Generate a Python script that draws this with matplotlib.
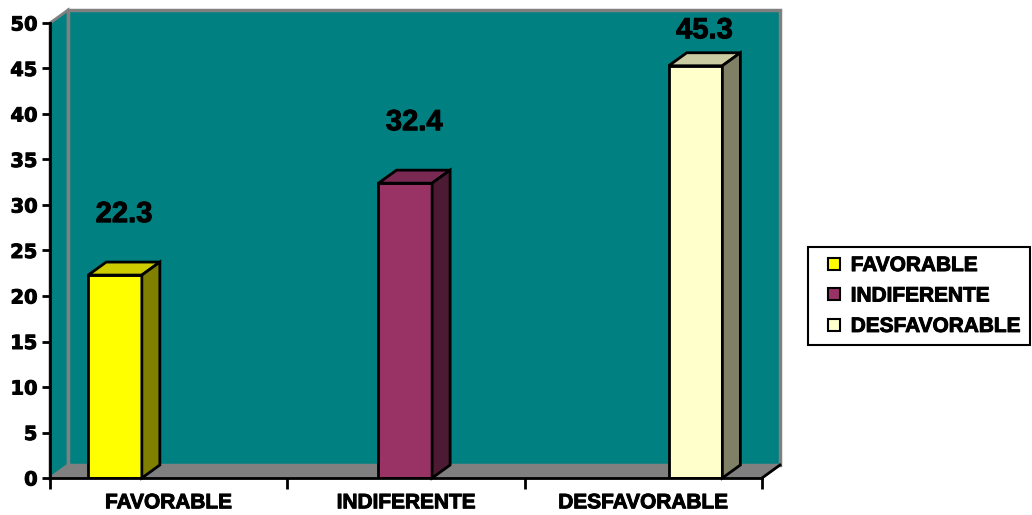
import numpy as np
import matplotlib.pyplot as plt
import matplotlib.patheffects as pe
from matplotlib.patches import Polygon
from matplotlib.lines import Line2D

plt.rcParams['font.family'] = ['Liberation Sans', 'DejaVu Sans']
plt.rcParams['font.weight'] = 'bold'

# chart data
categories = ['FAVORABLE', 'INDIFERENTE', 'DESFAVORABLE']
values = [22.3, 32.4, 45.3]
y_ticks = [0, 5, 10, 15, 20, 25, 30, 35, 40, 45, 50]

# colours: front, top and side faces of each bar
front_colors = ['#FFFF00', '#993366', '#FFFFCC']
top_colors = ['#CCCC00', '#7A2952', '#CCCCA3']
side_colors = ['#808000', '#4D1A33', '#808066']
wall = '#008080'
floor = '#808080'
heavy = [pe.withStroke(linewidth=0.7, foreground='black')]

W, H = 1032, 515
fig = plt.figure(figsize=(W / 100, H / 100), dpi=100)
ax = fig.add_axes([50 / W, 1 - 478 / H, 712 / W, 455 / H])
ax.set_xlim(0, 3)
ax.set_ylim(0, 50)

# depth offset of the fake 3D box (in data units)
dx = 18 / 237.3
dy = 13 / 9.1
top = y_ticks[-1]
ncat = len(categories)

# back wall, left wall, floor
ax.add_patch(Polygon([(dx, dy), (ncat + dx, dy), (ncat + dx, top + dy), (dx, top + dy)],
                     closed=True, fc=wall, ec=floor, lw=2.5, clip_on=False, zorder=0))
ax.add_patch(Polygon([(0, 0), (dx, dy), (dx, top + dy), (0, top)],
                     closed=True, fc=wall, ec=floor, lw=2, clip_on=False, zorder=0.5))
ax.add_patch(Polygon([(0, 0), (ncat, 0), (ncat + dx, dy), (dx, dy)],
                     closed=True, fc=floor, ec=floor, lw=1.5, clip_on=False, zorder=0.6))
ax.plot([ncat, ncat + dx], [0, dy], color='black', lw=2, clip_on=False, zorder=0.7)

# bars
bw = 0.226
bar_x = 0.274 + 1.223 * np.arange(ncat)
ax.bar(bar_x, values, width=bw, color=front_colors, edgecolor='black', linewidth=2, zorder=3)
for x, v, tc, sc in zip(bar_x, values, top_colors, side_colors):
    x0, x1 = x - bw / 2, x + bw / 2
    ax.add_patch(Polygon([(x0, v), (x0 + dx, v + dy), (x1 + dx, v + dy), (x1, v)],
                         closed=True, fc=tc, ec='black', lw=2, zorder=3, clip_on=False))
    ax.add_patch(Polygon([(x1, 0), (x1 + dx, dy), (x1 + dx, v + dy), (x1, v)],
                         closed=True, fc=sc, ec='black', lw=2, zorder=3, clip_on=False))
    ax.text(x + dx / 2, min(v + 6.7, 49.2), f'{v}', ha='center', va='center',
            fontsize=21, fontweight='bold', zorder=5, path_effects=heavy)

# axes
for s in ['top', 'right']:
    ax.spines[s].set_visible(False)
for s in ['left', 'bottom']:
    ax.spines[s].set_linewidth(2)
    ax.spines[s].set_zorder(4)
ax.set_facecolor('none')
ax.set_yticks(y_ticks)
ax.tick_params(axis='y', direction='out', length=6, width=2, pad=3)
for lab in ax.get_yticklabels():
    lab.set_fontfamily('DejaVu Sans')
    lab.set_fontsize(14)
    lab.set_path_effects(heavy)
ax.set_xticks(np.arange(ncat + 1))
ax.set_xticklabels([])
ax.tick_params(axis='x', which='major', direction='out', length=8, width=2)
ax.set_xticks(np.arange(ncat) + 0.5, minor=True)
ax.set_xticklabels(categories, minor=True)
ax.tick_params(axis='x', which='minor', length=0, labelsize=15, pad=11)
for lab in ax.get_xticklabels(minor=True):
    lab.set_path_effects(heavy)

handles = [Line2D([], [], ls='none', marker='s', ms=8.6, mfc=c, mec='black', mew=1.5)
           for c in front_colors]
leg = fig.legend(handles, categories, loc='center left', bbox_to_anchor=(808 / W, 1 - 296 / H),
                 fancybox=False, edgecolor='black', framealpha=1, fontsize=15,
                 handlelength=1.6, handletextpad=0.0, labelspacing=0.55, borderpad=0.45,
                 borderaxespad=0)
leg.get_frame().set_linewidth(1.5)
for t in leg.get_texts():
    t.set_path_effects(heavy)

fig.savefig('out.png', dpi=100)
